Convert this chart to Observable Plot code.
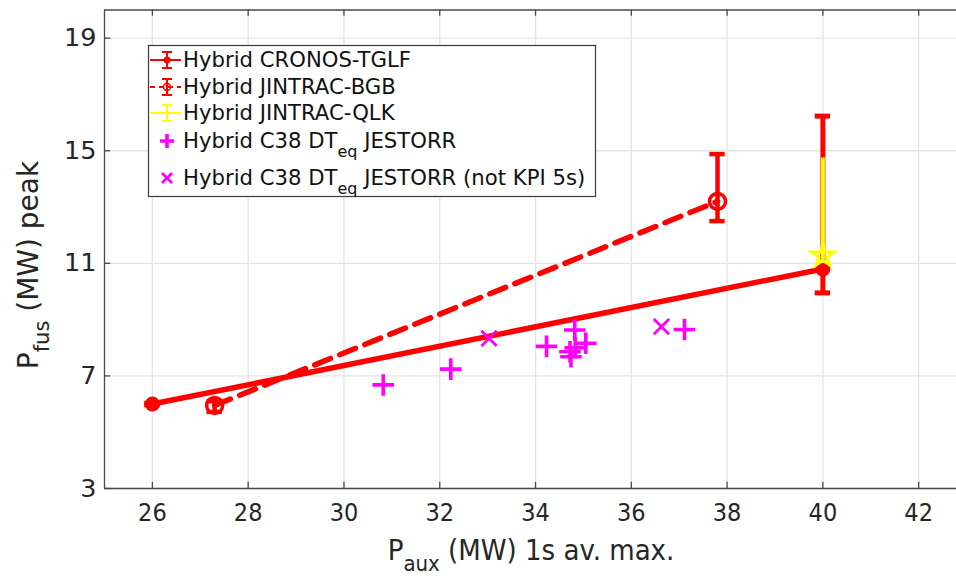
<!DOCTYPE html>
<html>
<head>
<meta charset="utf-8">
<script src="https://cdn.jsdelivr.net/npm/d3@7"></script>
<script src="https://cdn.jsdelivr.net/npm/@observablehq/plot@0.6"></script>
<style>
  html, body { margin: 0; padding: 0; background: #fff; overflow: hidden; }
  #chart svg { display: block; }
</style>
</head>
<body>
<div id="chart"></div>
<script>
// ---- data ----
const xTicks = [26, 28, 30, 32, 34, 36, 38, 40, 42];
const yTicks = [3, 7, 11, 15, 19];

const cronosX  = [26, 40];
const cronosY  = [6.0, 10.8];
const cronosLo = [5.97, 9.95];
const cronosHi = [6.03, 16.23];

const bgbX  = [27.3, 37.8];
const bgbY  = [5.95, 13.2];
const bgbLo = [5.72, 12.5];
const bgbHi = [6.1, 14.88];

const qlkX  = [40];
const qlkY  = [11.27];
const qlkLo = [11.1];
const qlkHi = [14.74];

const jestX = [30.82, 32.23, 34.23, 34.82, 34.83, 35.05, 34.72, 34.74, 37.11];
const jestY = [6.68, 7.24, 8.05, 8.63, 8.0, 8.16, 7.86, 7.68, 8.65];

const notKpiX = [33.03, 36.63];
const notKpiY = [8.33, 8.75];

const legendLabels = [
  "Hybrid CRONOS-TGLF",
  "Hybrid JINTRAC-BGB",
  "Hybrid JINTRAC-QLK",
  ["Hybrid C38 DT", "eq", " JESTORR"],
  ["Hybrid C38 DT", "eq", " JESTORR (not KPI 5s)"]
];

// ---- tables ----
const toRows = (xs, ys, lo, hi) => xs.map((x, i) => ({x, y: ys[i], lo: lo ? lo[i] : null, hi: hi ? hi[i] : null}));
const cronos = toRows(cronosX, cronosY, cronosLo, cronosHi);
const bgb = toRows(bgbX, bgbY, bgbLo, bgbHi);
const qlk = toRows(qlkX, qlkY, qlkLo, qlkHi);
const jest = toRows(jestX, jestY);
const notKpi = toRows(notKpiX, notKpiY);

const RED = "#ff0000", YEL = "#ffff00", MAG = "#ff00ff";
const AX = "#4a4a4a", GRID = "#e4e4e4";
const cap = 0.16;
const fontMain = "DejaVu Sans, sans-serif";
const fontCond = "'DejaVu Sans Condensed', 'Liberation Sans Narrow', 'DejaVu Sans', sans-serif";

const chart = Plot.plot({
  width: 956,
  height: 576,
  marginLeft: 104,
  marginRight: 0,
  marginTop: 9.5,
  marginBottom: 88,
  style: {fontFamily: fontMain, background: "#fff", color: "#262626"},
  x: {domain: [25, 42.79]},
  y: {domain: [3, 20]},
  marks: [
    Plot.gridX(xTicks, {stroke: GRID, strokeOpacity: 1, strokeWidth: 1.3}),
    Plot.gridY(yTicks, {stroke: GRID, strokeOpacity: 1, strokeWidth: 1.3}),
    // frame
    Plot.ruleY([3], {stroke: AX, strokeWidth: 1.3}),
    Plot.ruleY([20], {stroke: AX, strokeWidth: 1.3}),
    Plot.ruleX([25], {stroke: AX, strokeWidth: 1.3}),
    // inward ticks
    Plot.ruleX(xTicks, {y1: 3, y2: 3.22, stroke: AX, strokeWidth: 1.3}),
    Plot.ruleX(xTicks, {y1: 19.78, y2: 20, stroke: AX, strokeWidth: 1.3}),
    Plot.ruleY(yTicks, {x1: 25, x2: 25.13, stroke: AX, strokeWidth: 1.3}),
    Plot.axisX(xTicks, {tickSize: 0, tickPadding: 15, fontSize: 25, fontFamily: fontCond, fill: "#262626", label: null}),
    Plot.axisY(yTicks, {tickSize: 0, tickPadding: 8, fontSize: 25.5, fill: "#262626", label: null}),
    // lines
    Plot.line(cronos, {x: "x", y: "y", stroke: RED, strokeWidth: 5.5}),
    Plot.line(bgb, {x: "x", y: "y", stroke: RED, strokeWidth: 5.5, strokeDasharray: "17,10"}),
    // error bars
    Plot.ruleX(cronos, {x: "x", y1: "lo", y2: "hi", stroke: RED, strokeWidth: 5}),
    Plot.ruleY(cronos, {y: "lo", x1: d => d.x - cap, x2: d => d.x + cap, stroke: RED, strokeWidth: 5}),
    Plot.ruleY(cronos, {y: "hi", x1: d => d.x - cap, x2: d => d.x + cap, stroke: RED, strokeWidth: 5}),
    Plot.ruleX(bgb, {x: "x", y1: "lo", y2: "hi", stroke: RED, strokeWidth: 4.5}),
    Plot.ruleY(bgb, {y: "lo", x1: d => d.x - cap, x2: d => d.x + cap, stroke: RED, strokeWidth: 4.5}),
    Plot.ruleY(bgb, {y: "hi", x1: d => d.x - cap, x2: d => d.x + cap, stroke: RED, strokeWidth: 4.5}),
    // markers
    Plot.dot(cronos, {x: "x", y: "y", r: 7.5, fill: RED}),
    Plot.dot(bgb, {x: "x", y: "y", r: 8, stroke: RED, strokeWidth: 3.5, fill: "none"}),
    Plot.ruleX(qlk, {x: "x", y1: "lo", y2: "hi", stroke: YEL, strokeWidth: 4}),
    Plot.dot(qlk, {x: "x", y: "y", symbol: "star", r: 7, stroke: YEL, strokeWidth: 3, fill: "none"}),
    Plot.dot(jest, {x: "x", y: "y", symbol: "plus", r: 7, stroke: MAG, strokeWidth: 3.6}),
    Plot.dot(notKpi, {x: "x", y: "y", symbol: "times", r: 7, stroke: MAG, strokeWidth: 2.8})
  ]
});

document.getElementById("chart").appendChild(chart);

// ---- axis titles and legend ----
const svg = d3.select(chart);

// x label
const xl = svg.append("text")
  .attr("x", 531).attr("y", 560)
  .attr("text-anchor", "middle")
  .attr("font-family", fontCond).attr("font-size", 29).attr("fill", "#262626");
xl.append("tspan").text("P");
xl.append("tspan").attr("dy", 11).attr("font-size", 22).text("aux");
xl.append("tspan").attr("dy", -11).text(" (MW) 1s av. max.");

// y label
const yl = svg.append("text")
  .attr("transform", "translate(38,265) rotate(-90)")
  .attr("text-anchor", "middle")
  .attr("font-family", fontMain).attr("font-size", 28).attr("fill", "#262626");
yl.append("tspan").text("P");
yl.append("tspan").attr("dy", 11).attr("font-size", 21).text("fus");
yl.append("tspan").attr("dy", -11).text(" (MW) peak");

// legend
const lg = svg.append("g");
lg.append("rect").attr("x", 148.5).attr("y", 45.5).attr("width", 447).attr("height", 151)
  .attr("fill", "#fff").attr("stroke", "#3a3a3a").attr("stroke-width", 1.2);

const sx = 167, lx1 = 150, lx2 = 181, tx = 183;
const rowsY = [60, 87, 113, 141, 178];
const baseY = [67, 94, 120, 148, 185];

function ebar(g, y, color) {
  g.append("line").attr("x1", sx).attr("x2", sx).attr("y1", y - 8).attr("y2", y + 8).attr("stroke", color).attr("stroke-width", 2);
  [y - 8, y + 8].forEach(yy => g.append("line").attr("x1", sx - 5).attr("x2", sx + 5).attr("y1", yy).attr("y2", yy).attr("stroke", color).attr("stroke-width", 2));
}
// 1
lg.append("line").attr("x1", lx1).attr("x2", lx2).attr("y1", rowsY[0]).attr("y2", rowsY[0]).attr("stroke", RED).attr("stroke-width", 2);
ebar(lg, rowsY[0], RED);
lg.append("circle").attr("cx", sx).attr("cy", rowsY[0]).attr("r", 3.5).attr("fill", RED);
// 2
lg.append("line").attr("x1", lx1).attr("x2", lx2).attr("y1", rowsY[1]).attr("y2", rowsY[1]).attr("stroke", RED).attr("stroke-width", 2).attr("stroke-dasharray", "5,4");
ebar(lg, rowsY[1], RED);
lg.append("circle").attr("cx", sx).attr("cy", rowsY[1]).attr("r", 3.5).attr("fill", "none").attr("stroke", RED).attr("stroke-width", 1.5);
// 3
lg.append("line").attr("x1", lx1).attr("x2", lx2).attr("y1", rowsY[2]).attr("y2", rowsY[2]).attr("stroke", YEL).attr("stroke-width", 2);
ebar(lg, rowsY[2], YEL);
// 4 plus
lg.append("path").attr("d", `M${sx - 7},${rowsY[3]}H${sx + 7}M${sx},${rowsY[3] - 7}V${rowsY[3] + 7}`).attr("stroke", MAG).attr("stroke-width", 3.6);
// 5 times
lg.append("path").attr("d", `M${sx - 5},${rowsY[4] - 5}L${sx + 5},${rowsY[4] + 5}M${sx - 5},${rowsY[4] + 5}L${sx + 5},${rowsY[4] - 5}`).attr("stroke", MAG).attr("stroke-width", 2.8);

legendLabels.forEach((lab, i) => {
  const t = lg.append("text").attr("x", tx).attr("y", baseY[i])
    .attr("text-anchor", "start")
    .attr("font-family", fontMain).attr("font-size", 21.2).attr("fill", "#111");
  if (typeof lab === "string") {
    t.text(lab);
  } else {
    t.append("tspan").text(lab[0]);
    t.append("tspan").attr("dy", 9).attr("font-size", 16).text(lab[1]);
    t.append("tspan").attr("dy", -9).text(lab[2]);
  }
});
</script>
</body>
</html>
